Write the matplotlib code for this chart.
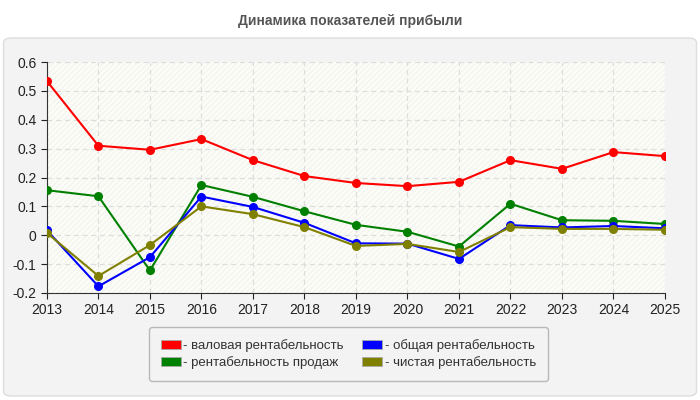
import matplotlib.pyplot as plt
from matplotlib.patches import FancyBboxPatch, Rectangle, Patch

years = [2013, 2014, 2015, 2016, 2017, 2018, 2019, 2020, 2021, 2022, 2023, 2024, 2025]
gross = [0.534, 0.310, 0.296, 0.333, 0.260, 0.205, 0.181, 0.170, 0.185, 0.260, 0.230, 0.288, 0.274]
sales = [0.156, 0.135, -0.122, 0.174, 0.133, 0.083, 0.036, 0.012, -0.039, 0.109, 0.052, 0.050, 0.039]
total = [0.017, -0.177, -0.076, 0.134, 0.098, 0.043, -0.028, -0.029, -0.082, 0.035, 0.027, 0.032, 0.024]
net = [0.008, -0.141, -0.034, 0.100, 0.073, 0.028, -0.037, -0.030, -0.058, 0.028, 0.022, 0.022, 0.019]

labels = ['- валовая рентабельность', '- рентабельность продаж',
          '- общая рентабельность', '- чистая рентабельность']
colors = ['#ff0000', '#008000', '#0000ff', '#808000']

plt.rcParams['font.family'] = ['Liberation Sans', 'DejaVu Sans']

fig = plt.figure(figsize=(7, 4), dpi=100)
fig.patch.set_facecolor('white')

# серая подложка
panel = FancyBboxPatch((0.005, 0.01), 0.99, 0.895, boxstyle='round,pad=0,rounding_size=0.012',
                       transform=fig.transFigure, facecolor='#f3f3f3', edgecolor='#dddddd',
                       linewidth=1, zorder=-10)
fig.patches.append(panel)

fig.text(0.5, 0.948, 'Динамика показателей прибыли', ha='center', va='center',
         fontsize=10, fontweight='bold', color='#555555')

ax = fig.add_axes([0.067, 0.2675, 0.883, 0.5775])
ax.set_facecolor('#fdfdf8')
ax.add_patch(Rectangle((0, 0), 1, 1, transform=ax.transAxes, facecolor='none',
                       edgecolor='#f3f3f0', hatch='//////', linewidth=0, zorder=0))

series = [gross, sales, total, net]
for i in range(4):
    ax.plot(years, series[i], color=colors[i], linewidth=1.5, marker='o', markersize=5.5, zorder=3)

ax.set_xlim(2013, 2025)
ax.set_ylim(-0.2, 0.6)
ax.set_xticks(years)
ax.set_yticks([-0.2, -0.1, 0, 0.1, 0.2, 0.3, 0.4, 0.5, 0.6])
ax.set_yticklabels(['-0.2', '-0.1', '0', '0.1', '0.2', '0.3', '0.4', '0.5', '0.6'])
ax.tick_params(labelsize=10, colors='#222222', length=4)
ax.grid(True, linestyle=(0, (4, 3)), color='#dddddd', linewidth=0.9)
ax.set_axisbelow(True)
for s in ['top', 'right']:
    ax.spines[s].set_visible(False)
for s in ['left', 'bottom']:
    ax.spines[s].set_color('#333333')

handles = [Patch(facecolor=c, edgecolor='#aaaaaa', linewidth=0.6) for c in colors]
leg = fig.legend(handles, labels, ncol=2,
                 loc='center', bbox_to_anchor=(0.498, 0.115), fontsize=9.5,
                 frameon=True, facecolor='#f3f3f3', edgecolor='#aaaaaa',
                 handlelength=1.5, handleheight=0.7, handletextpad=0.2,
                 columnspacing=1.4, labelspacing=0.3, borderpad=0.9, fancybox=True)
leg.set_zorder(5)
for t in leg.get_texts():
    t.set_color('#333333')

fig.savefig('out.png', dpi=100)
